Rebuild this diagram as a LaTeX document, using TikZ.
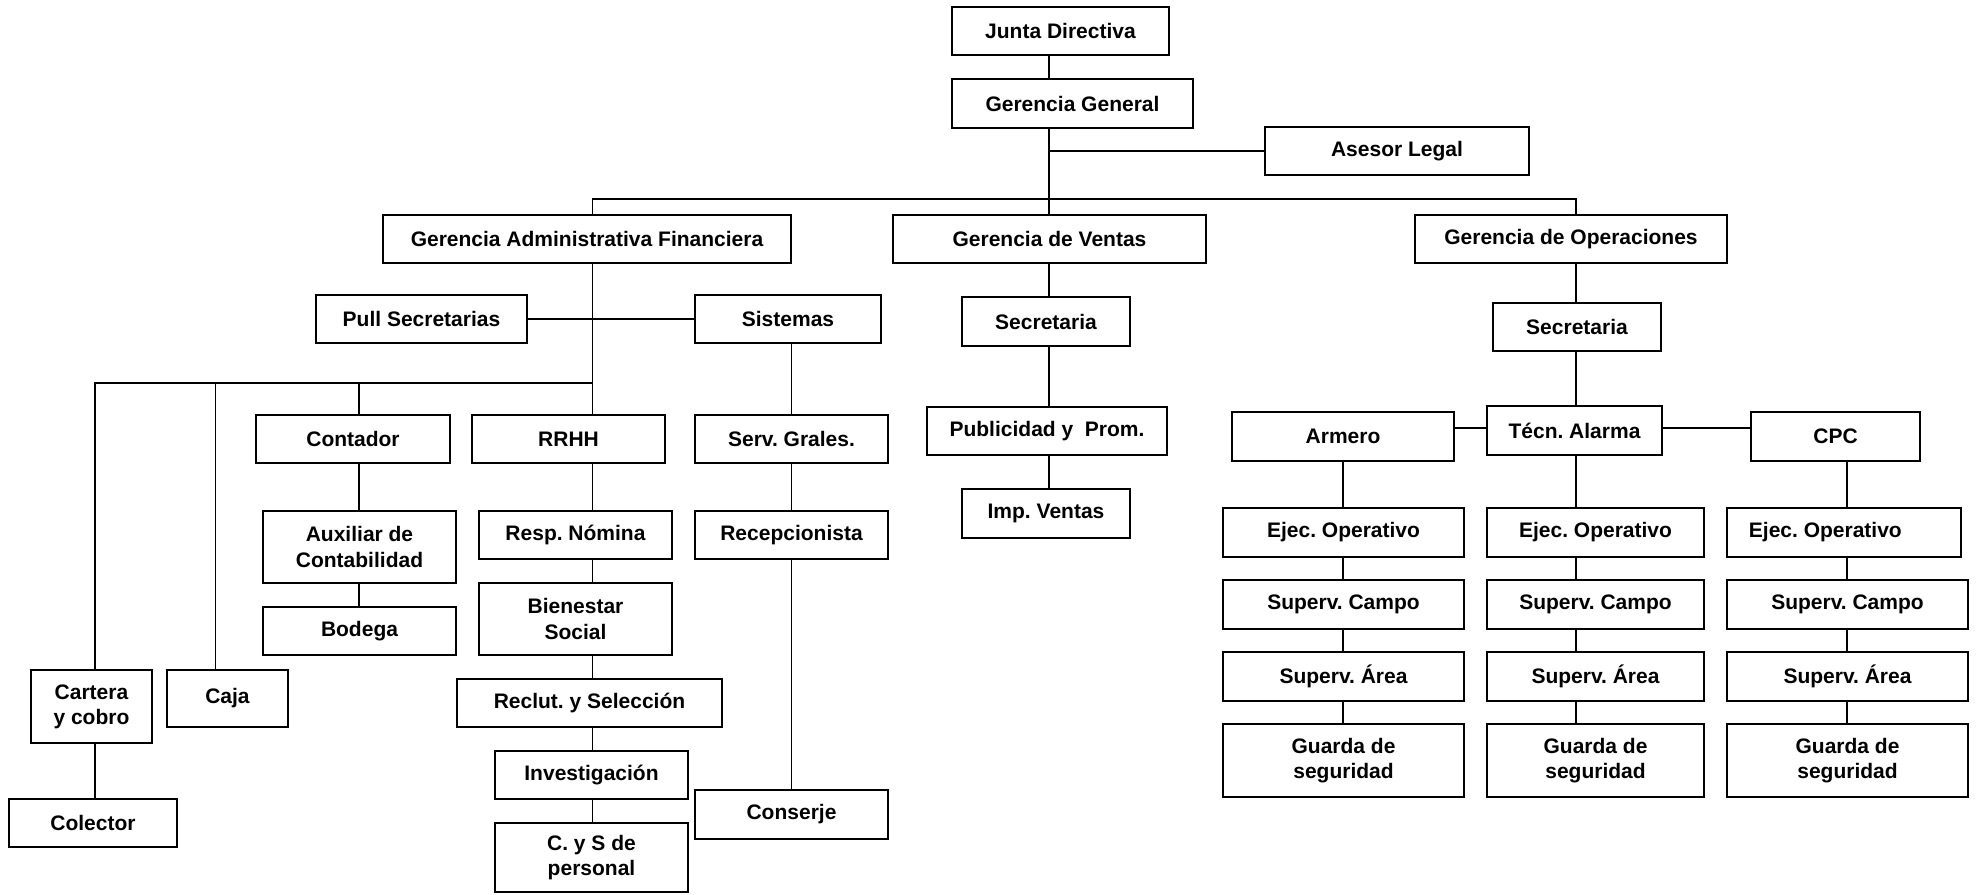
\documentclass[tikz,border=0pt]{standalone}
\usepackage{fontspec}
\setmainfont{Liberation Sans}
\frenchspacing
\tikzset{
  orgbox/.style={draw, line width=1.1pt, fill=white, inner sep=0pt, align=center,
    font=\bfseries\fontsize{15.75}{19}\selectfont},
  link/.style={line width=1pt}
}
% box given by its corners (x1,y1)-(x2,y2) in pixel units
\newcommand\orgnode[6]{%
  \node[orgbox, minimum width={(#4-#2)*0.75pt}, minimum height={(#5-#3)*0.75pt}]
    (#1) at ({(#2+#4)/2},{(#3+#5)/2}) {#6};}
\begin{document}
\begin{tikzpicture}[x=0.75pt,y=-0.75pt]
\useasboundingbox (0,0) rectangle (1976,894);

% ---- top levels
\orgnode{jd}{952}{7}{1169}{55}{Junta Directiva}
\orgnode{gg}{952}{79}{1193}{128}{Gerencia General}
\orgnode{al}{1265}{127}{1529}{175}{Asesor Legal}
\orgnode{gaf}{383}{215}{791}{263}{Gerencia Administrativa Financiera}
\orgnode{gv}{893}{215}{1206}{263}{Gerencia de Ventas}
\orgnode{go}{1415}{215}{1727}{263}{Gerencia de Operaciones}

% ---- administrative branch
\orgnode{pull}{316}{295}{527}{343}{Pull Secretarias}
\orgnode{sis}{695}{295}{881}{343}{Sistemas}
\orgnode{cont}{256}{415}{450}{463}{Contador}
\orgnode{rrhh}{472}{415}{665}{463}{RRHH}
\orgnode{serv}{695}{415}{888}{463}{Serv. Grales.}
\orgnode{aux}{263}{511}{456}{583}{Auxiliar de\\Contabilidad}
\orgnode{bod}{263}{607}{456}{655}{Bodega}
\orgnode{nom}{479}{511}{672}{559}{Resp. Nómina}
\orgnode{bien}{479}{583}{672}{655}{Bienestar\\Social}
\orgnode{recl}{457}{679}{722}{727}{Reclut. y Selección}
\orgnode{inv}{495}{751}{688}{799}{Investigación}
\orgnode{cys}{495}{823}{688}{892}{C. y S de\\personal}
\orgnode{recep}{695}{511}{888}{559}{Recepcionista}
\orgnode{cons}{695}{790}{888}{839}{Conserje}
\orgnode{cart}{31}{670}{152}{743}{Cartera\\y cobro}
\orgnode{caja}{167}{670}{288}{727}{Caja}
\orgnode{col}{9}{799}{177}{847}{Colector}

% ---- sales branch
\orgnode{vsec}{962}{297}{1130}{346}{Secretaria}
\orgnode{pub}{927}{407}{1167}{455}{Publicidad y~ Prom.}
\orgnode{imp}{962}{489}{1130}{538}{Imp. Ventas}

% ---- operations branch
\orgnode{osec}{1493}{303}{1661}{351}{Secretaria}
\orgnode{arm}{1232}{412}{1454}{461}{Armero}
\orgnode{tec}{1487}{406}{1662}{455}{Técn. Alarma}
\orgnode{cpc}{1751}{412}{1920}{461}{CPC}

\orgnode{ejA}{1223}{508}{1464}{557}{Ejec. Operativo}
\orgnode{caA}{1223}{580}{1464}{629}{Superv. Campo}
\orgnode{arA}{1223}{652}{1464}{701}{Superv. Área}
\orgnode{guA}{1223}{724}{1464}{797}{Guarda de\\seguridad}

\orgnode{ejB}{1487}{508}{1704}{557}{Ejec. Operativo}
\orgnode{caB}{1487}{580}{1704}{629}{Superv. Campo}
\orgnode{arB}{1487}{652}{1704}{701}{Superv. Área}
\orgnode{guB}{1487}{724}{1704}{797}{Guarda de\\seguridad}

\orgnode{ejC}{1727}{508}{1961}{557}{Ejec. Operativo\hspace*{28pt}}
\orgnode{caC}{1727}{580}{1968}{629}{Superv. Campo}
\orgnode{arC}{1727}{652}{1968}{701}{Superv. Área}
\orgnode{guC}{1727}{724}{1968}{797}{Guarda de\\seguridad}

% ---- trunk and bus positions
\coordinate (vx) at (1049,199);     % general trunk / sales column
\coordinate (ax) at (592.5,199);    % administrative trunk
\coordinate (ox) at (1576,199);     % operations trunk
\coordinate (sx) at (791.5,320);    % systems column
\coordinate (lbus) at (592.5,383);  % left bus
\coordinate (xcart) at (95,383);
\coordinate (xcaja) at (215.5,383);
\coordinate (xcont) at (359,383);
\coordinate (hy) at (0,428);        % armero / alarma / cpc line
\coordinate (rx) at (1343,0);       % armero column
\coordinate (cx) at (1847,0);       % cpc column

% ---- connectors
\draw[link] (vx |- jd.south) -- (vx |- gg.north);
\draw[link] (vx |- gg.south) -- (vx |- gv.north);
\draw[link] (al.west) -- (al.west -| vx);
\draw[link] (ax |- gaf.north) -- (ax) -- (ox) -- (ox |- go.north);

% administrative
\draw[link] (ax |- gaf.south) -- (ax |- rrhh.north);
\draw[link] (pull.east) -- (sis.west);
\draw[link] (xcart |- cart.north) -- (xcart) -- (lbus);
\draw[link] (xcaja |- caja.north) -- (xcaja);
\draw[link] (xcont |- cont.north) -- (xcont);
\draw[link] (xcont |- cont.south) -- (xcont |- aux.north);
\draw[link] (xcont |- aux.south) -- (xcont |- bod.north);
\draw[link] (xcart |- cart.south) -- (xcart |- col.north);
\draw[link] (ax |- rrhh.south) -- (ax |- nom.north);
\draw[link] (ax |- nom.south) -- (ax |- bien.north);
\draw[link] (ax |- bien.south) -- (ax |- recl.north);
\draw[link] (ax |- recl.south) -- (ax |- inv.north);
\draw[link] (ax |- inv.south) -- (ax |- cys.north);
\draw[link] (sx |- sis.south) -- (sx |- serv.north);
\draw[link] (sx |- serv.south) -- (sx |- recep.north);
\draw[link] (sx |- recep.south) -- (sx |- cons.north);

% sales
\draw[link] (vx |- gv.south) -- (vx |- vsec.north);
\draw[link] (vx |- vsec.south) -- (vx |- pub.north);
\draw[link] (vx |- pub.south) -- (vx |- imp.north);

% operations
\draw[link] (ox |- go.south) -- (ox |- osec.north);
\draw[link] (ox |- osec.south) -- (ox |- tec.north);
\draw[link] (arm.east |- hy) -- (tec.west |- hy);
\draw[link] (tec.east |- hy) -- (cpc.west |- hy);
\draw[link] (rx |- arm.south) -- (rx |- ejA.north);
\draw[link] (rx |- ejA.south) -- (rx |- caA.north);
\draw[link] (rx |- caA.south) -- (rx |- arA.north);
\draw[link] (rx |- arA.south) -- (rx |- guA.north);
\draw[link] (ox |- tec.south) -- (ox |- ejB.north);
\draw[link] (ox |- ejB.south) -- (ox |- caB.north);
\draw[link] (ox |- caB.south) -- (ox |- arB.north);
\draw[link] (ox |- arB.south) -- (ox |- guB.north);
\draw[link] (cx |- cpc.south) -- (cx |- ejC.north);
\draw[link] (cx |- ejC.south) -- (cx |- caC.north);
\draw[link] (cx |- caC.south) -- (cx |- arC.north);
\draw[link] (cx |- arC.south) -- (cx |- guC.north);
\end{tikzpicture}
\end{document}
